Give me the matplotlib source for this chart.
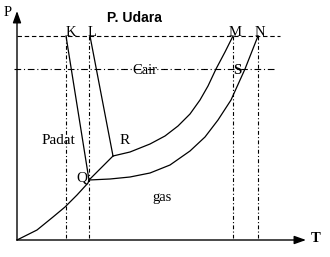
import matplotlib
matplotlib.use("Agg")
import matplotlib.pyplot as plt

# Phase-diagram curves (T, P) (arbitrary units)
sub_T = [0, 20, 36, 48, 60, 71, 72]
sub_P = [0, 10, 23, 33, 45, 57, 60]

qr_T = [72, 96]
qr_P = [60, 84]

melt_K_T = [49, 72]
melt_K_P = [204, 60]
melt_L_T = [73, 96]
melt_L_P = [204, 84]

vap_RM_T = [96, 113, 133, 148, 161, 173, 183, 191, 199, 208, 216]
vap_RM_P = [84, 88, 96, 104, 114, 126, 140, 154, 171, 188, 204]

vap_QN_T = [72, 93, 113, 133, 153, 173, 188, 201, 214, 228, 241]
vap_QN_P = [60, 61, 63, 67, 75, 89, 103, 120, 140, 171, 204]

# reference levels
p_udara = 204       # dashed: air pressure
p_cair = 171        # dash-dot line through "Cair"
verticals_T = [49, 72, 216, 241]
vertical_labels = ["K", "L", "M", "N"]
vertical_label_T = [54, 75, 218, 243]

fig = plt.figure(figsize=(3.3, 2.57), dpi=100)
ax = fig.add_axes([0, 0, 1, 1])
ax.set_xlim(-17, 313)
ax.set_ylim(-17, 240)
ax.axis("off")

serif = ["Liberation Serif", "DejaVu Serif"]
sans = ["Liberation Sans", "DejaVu Sans"]
lw = 0.9

# axes arrows
ax.annotate("", xy=(0, 229), xytext=(0, 0),
            arrowprops=dict(arrowstyle="-|>,head_length=0.7,head_width=0.25",
                            color="black", lw=1.0, shrinkA=0, shrinkB=0))
ax.annotate("", xy=(289, 0), xytext=(0, 0),
            arrowprops=dict(arrowstyle="-|>,head_length=0.7,head_width=0.25",
                            color="black", lw=1.0, shrinkA=0, shrinkB=0))

# reference lines
ax.plot([0, 263], [p_udara, p_udara], color="black", lw=0.8,
        linestyle=(0, (4, 2.5)))
ax.plot([-3, 258], [p_cair, p_cair], color="black", lw=0.8,
        linestyle=(0, (6, 2.5, 1, 2.5)))
for t in verticals_T:
    ax.plot([t, t], [p_udara, 2], color="black", lw=0.8,
            linestyle=(0, (3.5, 2, 1, 2)))

# curves
ax.plot(sub_T, sub_P, color="black", lw=lw)
ax.plot(qr_T, qr_P, color="black", lw=lw)
ax.plot(melt_K_T, melt_K_P, color="black", lw=lw)
ax.plot(melt_L_T, melt_L_P, color="black", lw=lw)
ax.plot(vap_RM_T, vap_RM_P, color="black", lw=lw)
ax.plot(vap_QN_T, vap_QN_P, color="black", lw=lw)

# labels
for lab, t in zip(vertical_labels, vertical_label_T):
    ax.text(t, p_udara, lab, family=serif, fontsize=10.5, ha="center",
            va="baseline")
ax.text(117, 222, "P. Udara", family=sans, fontsize=10, fontweight="bold",
        ha="center", va="center")
ax.text(128, 166, "Cair", family=serif, fontsize=10.5, ha="center",
        va="baseline")
ax.text(220, 166, "S", family=serif, fontsize=10.5, fontweight="bold",
        ha="center", va="baseline")
ax.text(41, 99, "Padat", family=serif, fontsize=11, ha="center", va="center")
ax.text(108, 99, "R", family=serif, fontsize=11, ha="center", va="center")
ax.text(65, 62, "Q", family=serif, fontsize=11, ha="center", va="center")
ax.text(145, 42, "gas", family=serif, fontsize=10.5, ha="center", va="center")
ax.text(-9, 227, "P", family=serif, fontsize=10.5, ha="center", va="center")
ax.text(299, 2, "T", family=serif, fontsize=10.5, fontweight="bold",
        ha="center", va="center")

fig.savefig("out.png", dpi=100, facecolor="white")
